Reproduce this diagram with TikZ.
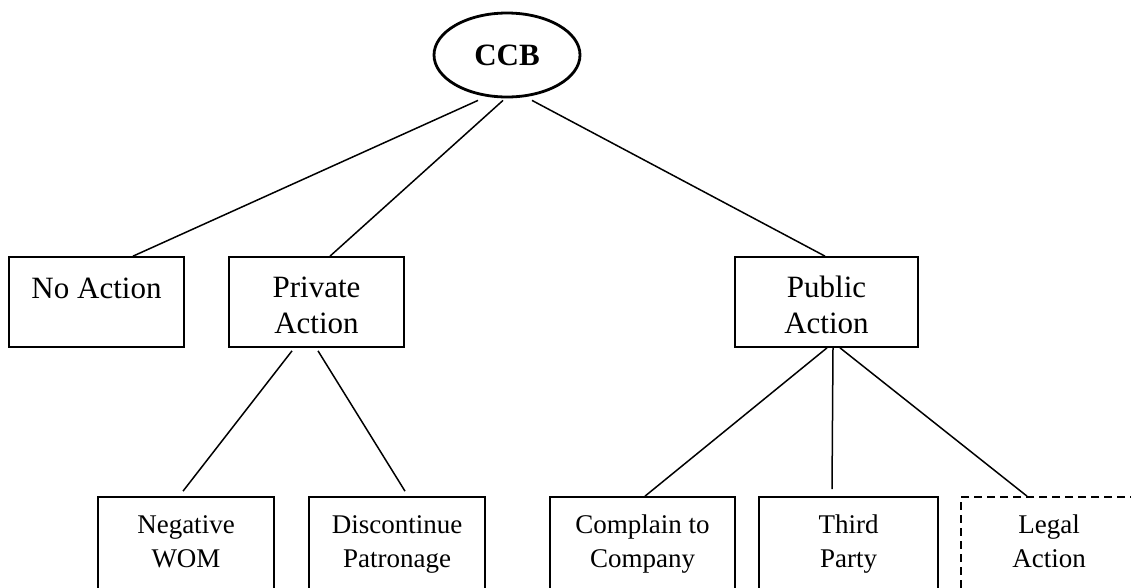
\documentclass[tikz,border=0pt]{standalone}
\usepackage{fontspec}
\setmainfont{Liberation Serif}
\usetikzlibrary{shapes.geometric,calc}

% Box contents: width, height, depth of first baseline below the top edge, text
\newcommand{\boxlabel}[4]{\parbox[c][#2][t]{#1}{\centering\rule{0pt}{#3}#4}}
\newcommand{\topfont}{\fontsize{31}{36}\selectfont}
\newcommand{\lowfont}{\fontsize{27}{34}\selectfont}

\begin{document}
\begin{tikzpicture}[x=1pt,y=-1pt,
  box/.style={draw, rectangle, line width=1.7pt, inner sep=0pt},
  dashbox/.style={box, dash pattern=on 8pt off 5pt},
  root/.style={draw, ellipse, line width=2.8pt, inner sep=0pt,
               minimum width=146, minimum height=84},
  link/.style={line width=1.5pt}]
\useasboundingbox (0,0) rectangle (1131,587);

% root
\node[root] (ccb) at (507,55) {\fontsize{31}{36}\selectfont\bfseries CCB};

% first level
\node[box] (noact) at (96.5,302)
  {\boxlabel{175pt}{90pt}{41pt}{\topfont No Action}};
\node[box] (priv) at (316.5,302)
  {\boxlabel{175pt}{90pt}{40pt}{\topfont Private\\Action}};
\node[box] (pub) at (826.5,302)
  {\boxlabel{183pt}{90pt}{40pt}{\topfont Public\\Action}};

% second level (running past the lower edge)
\node[box] (neg) at (186,546)
  {\boxlabel{176pt}{98pt}{36pt}{\lowfont Negative\\WOM}};
\node[box] (disc) at (397,546)
  {\boxlabel{176pt}{98pt}{36pt}{\lowfont Discontinue\\Patronage}};
\node[box] (comp) at (642.5,546)
  {\boxlabel{185pt}{98pt}{36pt}{\lowfont Complain to\\Company}};
\node[box] (third) at (848.5,546)
  {\boxlabel{179pt}{98pt}{36pt}{\lowfont Third\\Party}};
\node[dashbox] (legal) at (1049,546)
  {\boxlabel{176pt}{98pt}{36pt}{\lowfont Legal\\Action}};

% connectors from the root
\draw[link] ($(ccb.south)+(-29,2)$) -- ($(noact.north)+(36.5,0)$);
\draw[link] ($(ccb.south)+(-4,2)$) -- ($(priv.north)+(13.5,0)$);
\draw[link] ($(ccb.south)+(25,2)$) -- ($(pub.north)+(-1.5,0)$);

% connectors under Private Action
\draw[link] ($(priv.south)+(-24.5,3)$) -- ($(neg.north)+(-3,-5)$);
\draw[link] ($(priv.south)+(1.5,3)$) -- ($(disc.north)+(8,-5)$);

% connectors under Public Action
\draw[link] ($(pub.south)+(0.5,0)$) -- ($(comp.north)+(2.5,0)$);
\draw[link] ($(pub.south)+(6.5,0)$) -- ($(third.north)+(-16.5,-7)$);
\draw[link] ($(pub.south)+(13.5,0)$) -- ($(legal.north)+(-22,0)$);
\end{tikzpicture}
\end{document}
